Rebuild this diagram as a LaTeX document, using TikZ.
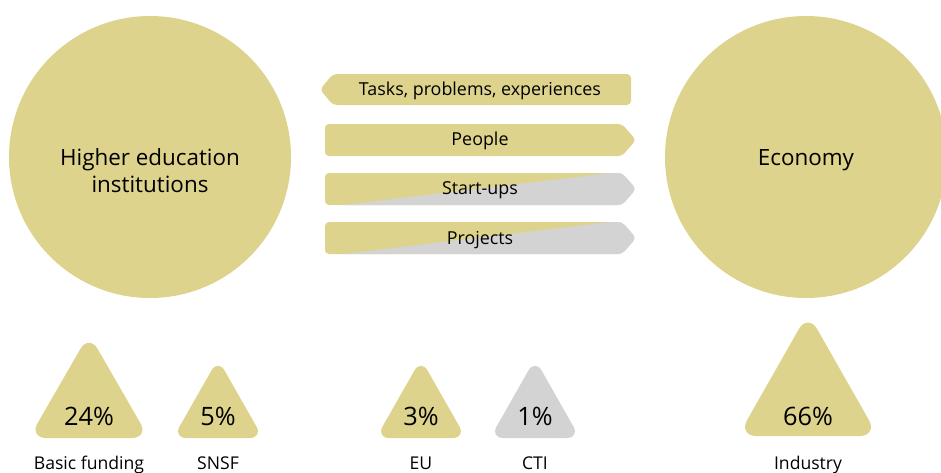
\documentclass[tikz,border=0pt]{standalone}
\usepackage{fontspec}
\setmainfont{Open Sans}
\usetikzlibrary{calc}
\definecolor{khaki}{RGB}{221,211,140}
\definecolor{lightgrey}{RGB}{211,211,211}
\tikzset{
  disc/.style={circle, fill=khaki, minimum size=211.5pt, inner sep=0pt},
  disctext/.style={align=center, inner sep=0pt, font=\fontsize{16.8}{20.3}\selectfont},
  bandtext/.style={font=\fontsize{13.4}{15}\selectfont, inner sep=0pt},
  pcttext/.style={font=\fontsize{19}{22}\selectfont, inner sep=0pt},
  srctext/.style={font=\fontsize{13.2}{15}\selectfont, inner sep=0pt, anchor=base}
}
% band pointing right, top edge at #1
\newcommand\BandRight[1]{%
  (325,#1) -- (622,#1) -- (636,#1+16) -- (622,#1+32) -- (325,#1+32) -- cycle}
% band pointing left, top edge at #1
\newcommand\BandLeft[1]{%
  (333,#1) -- (631,#1) -- (631,#1+31) -- (333,#1+31) -- (320,#1+15.5) -- cycle}
% rounded triangle: centre x, base y, half width, height
\newcommand\Tri[4]{%
  (#1-#3,#2) -- (#1,#2-#4) -- (#1+#3,#2) -- cycle}

\begin{document}
\begin{tikzpicture}[x=0.75pt,y=-0.75pt]
\useasboundingbox (0,0) rectangle (941,472);

% the two partners
\node[disc] (hei) at (150,157) {};
\node[disc] (eco) at (806,157) {};
\node[disctext] (heitext) at (150,171) {Higher education\\institutions};
\node[disctext] (ecotext) at (806,160) {Economy};

% exchange bands
\fill[khaki, rounded corners=3] \BandLeft{74};
\fill[khaki, rounded corners=3] \BandRight{124};
\foreach \y in {173,222} {
  \begin{scope}
    \clip[rounded corners=3] \BandRight{\y};
    \fill[khaki] (320,\y-2) rectangle (640,\y+34);
    \fill[lightgrey] (343,\y+32) -- (610,\y) -- (640,\y) -- (640,\y+34) -- (343,\y+34) -- cycle;
  \end{scope}
}
\node[bandtext] (tasks) at (480,91) {Tasks, problems, experiences};
\node[bandtext] (people) at (480,141) {People};
\node[bandtext] (startups) at (480,190) {Start-ups};
\node[bandtext] (projects) at (480,240) {Projects};

% funding shares
\fill[khaki, rounded corners=13] \Tri{89}{438}{60}{104};
\fill[khaki, rounded corners=10] \Tri{218}{438}{45}{79};
\fill[khaki, rounded corners=10] \Tri{421}{438}{45}{79};
\fill[lightgrey, rounded corners=10] \Tri{535}{438}{45}{79};
\fill[khaki, rounded corners=14] \Tri{808}{436}{70}{123};

\node[pcttext] (basic) at (89,416) {24\%};
\node[pcttext] (snsf) at (218,416) {5\%};
\node[pcttext] (eu) at (421,416) {3\%};
\node[pcttext] (cti) at (535,416) {1\%};
\node[pcttext] (industry) at (808,416) {66\%};

\node[srctext] (basiclbl) at (89,469) {Basic funding};
\node[srctext] (snsflbl) at (218,469) {SNSF};
\node[srctext] (eulbl) at (421,469) {EU};
\node[srctext] (ctilbl) at (535,469) {CTI};
\node[srctext] (industrylbl) at (808,469) {Industry};
\end{tikzpicture}
\end{document}
